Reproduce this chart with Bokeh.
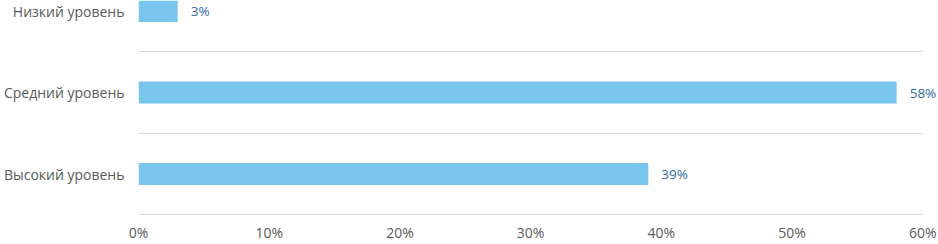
from bokeh.plotting import figure
from bokeh.models import ColumnDataSource, FixedTicker, LabelSet, Range1d
from bokeh.core.properties import value
from bokeh.embed import file_html
from bokeh.resources import INLINE

categories = ["Высокий уровень", "Средний уровень", "Низкий уровень"]
values = [39, 58, 3]
x_ticks = [0, 10, 20, 30, 40, 50, 60]
x_tick_labels = ["0%", "10%", "20%", "30%", "40%", "50%", "60%"]

positions = [i + 0.5 for i in range(len(categories))]
source = ColumnDataSource(dict(
    y=positions,
    v=values,
    lbl=[f"{v}%" for v in values],
))

FONT = "Open Sans"
FS = "14px"

p = figure(width=938, height=244, output_backend="svg", toolbar_location=None,
           x_range=Range1d(0, 61.2), y_range=Range1d(-0.02, 2.63),
           min_border_left=0, min_border_right=0, min_border_top=0, min_border_bottom=0)
p.outline_line_color = None
p.background_fill_color = "white"
p.border_fill_color = "white"

p.hbar(y="y", right="v", left=0, height=0.27, source=source,
       fill_color="#78c6ee", line_color=None)

labels = LabelSet(x="v", y="y", text="lbl", source=source, x_offset=13,
                  text_baseline="middle", text_align="left",
                  text_font=value(FONT), text_font_size=value("13.5px"),
                  text_color="#2f6ba6")
p.add_layout(labels)

for ax in (p.xaxis, p.yaxis):
    ax.axis_line_color = None
    ax.major_tick_line_color = None
    ax.minor_tick_line_color = None
    ax.major_tick_out = 0
    ax.major_tick_in = 0
    ax.minor_tick_out = 0
    ax.minor_tick_in = 0
    ax.axis_label_standoff = 0
    ax.major_label_text_font = FONT
    ax.major_label_text_font_size = FS
    ax.major_label_text_color = "#595959"

p.xaxis.ticker = FixedTicker(ticks=x_ticks)
p.xaxis.major_label_overrides = {t: l for t, l in zip(x_ticks, x_tick_labels)}
p.xaxis.major_label_standoff = 6

p.yaxis.ticker = FixedTicker(ticks=positions)
p.yaxis.major_label_overrides = {pos: c for pos, c in zip(positions, categories)}
p.yaxis.major_label_standoff = 14

p.xgrid.grid_line_color = None
p.ygrid.ticker = FixedTicker(ticks=[0, 1, 2])
p.ygrid.grid_line_color = "#d9d9d9"
p.ygrid.cross_bounds = (0, 60)

open("out.html", "w").write(file_html(p, INLINE))
